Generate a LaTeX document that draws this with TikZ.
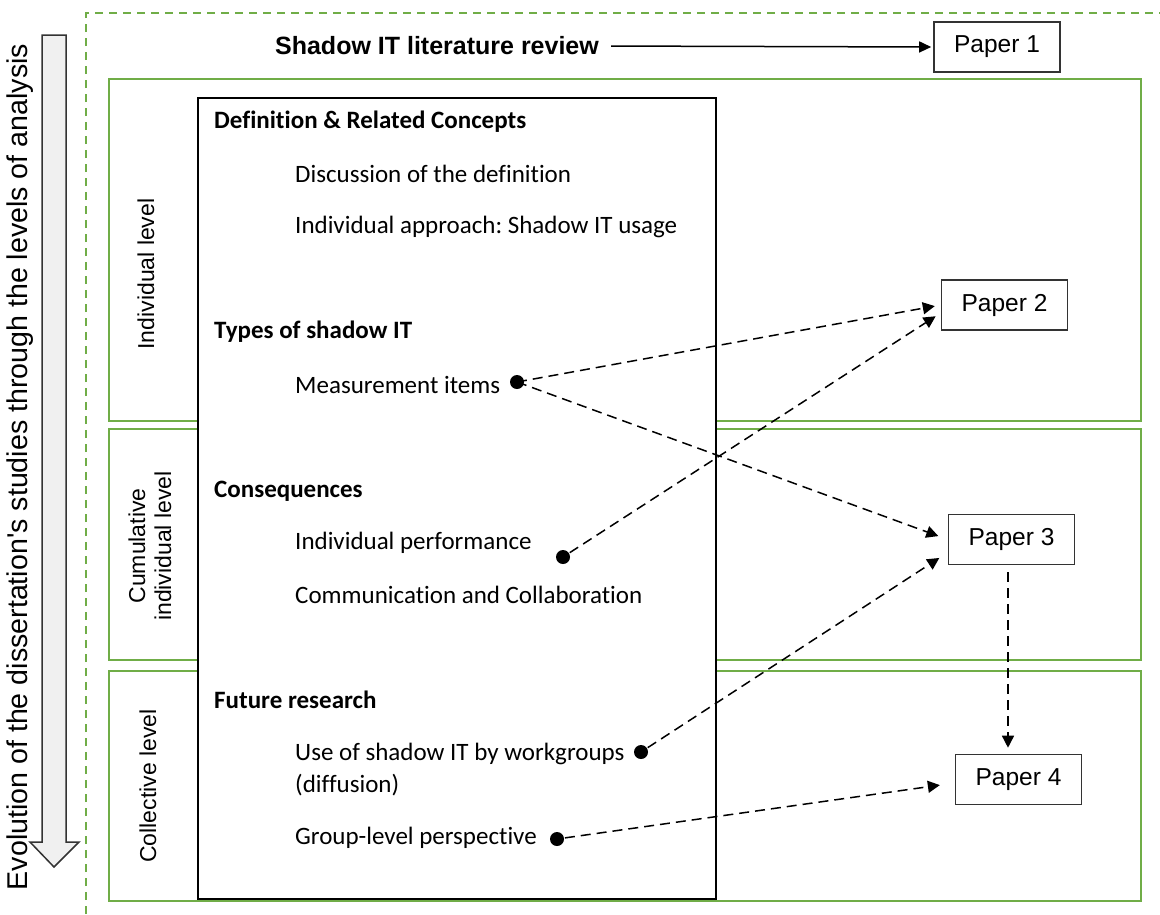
\documentclass[tikz,border=0pt]{standalone}
\usepackage{fontspec}
\setmainfont{Carlito}[Ligatures=NoCommon]
\newfontfamily\arialf{Liberation Sans}
\usetikzlibrary{arrows.meta,calc}
\definecolor{lvlgreen}{HTML}{70AD47}
\definecolor{boxgray}{HTML}{333333}
\definecolor{arrowfill}{HTML}{F0F0F0}
\frenchspacing
\tikzset{
  paperbox/.style={draw=boxgray,line width=1.6pt,minimum width=126pt,minimum height=50pt,inner sep=0pt,font=\arialf\fontsize{24.5}{26}\selectfont},
  lvlbox/.style={draw=lvlgreen,line width=1.5pt},
  lvllabel/.style={rotate=90,font=\arialf\fontsize{23}{26}\selectfont,align=center,inner sep=0pt},
  head/.style={anchor=west,font=\bfseries\fontsize{25}{30}\selectfont,inner sep=0pt},
  item/.style={anchor=west,font=\fontsize{25}{32}\selectfont,inner sep=0pt,align=left},
  dot/.style={circle,fill=black,minimum size=14pt,inner sep=0pt},
  dasharrow/.style={dashed,dash pattern=on 10pt off 6pt,line width=1.5pt,-{Triangle[length=12pt,width=12pt]}},
}
\begin{document}
\begin{tikzpicture}[x=1pt,y=-1pt]
\useasboundingbox (0,0) rectangle (1160,914);
% outer dashed frame
\draw[lvlgreen,line width=1.5pt,dash pattern=on 8pt off 6pt] (86,914) -- (86,13) -- (1160,13);
% left evolution arrow
\draw[boxgray,line width=1.5pt,fill=arrowfill] (42,35) -- (66,35) -- (66,842) -- (79,842) -- (54,867) -- (30,842) -- (42,842) -- cycle;
\node[rotate=90,font=\arialf\fontsize{28.6}{30}\selectfont,inner sep=0pt] (evo) at (20,467) {Evolution of the dissertation's studies through the levels of analysis};
% level boxes
\node[lvlbox,minimum width=1032pt,minimum height=342pt,anchor=north west,inner sep=0pt] (l1) at (108,78) {};
\node[lvlbox,minimum width=1032pt,minimum height=231pt,anchor=north west,inner sep=0pt] (l2) at (108,428) {};
\node[lvlbox,minimum width=1032pt,minimum height=230pt,anchor=north west,inner sep=0pt] (l3) at (108,670) {};
\node[lvllabel] (t1) at (146,274) {Individual level};
\node[lvllabel] (t2) at (150,546) {Cumulative\\individual level};
\node[lvllabel] (t3) at (148,786) {Collective level};
% big content box
\node[draw=black,line width=1.5pt,fill=white,minimum width=518pt,minimum height=801pt,anchor=north west,inner sep=0pt] (big) at (197,97) {};
% title
\node[font=\arialf\bfseries\fontsize{25}{28}\selectfont,inner sep=0pt] (title) at (437,46) {Shadow IT literature review};
% papers
\node[paperbox] (p1) at (997,47) {Paper 1};
\node[paperbox] (p2) at (1004.5,305) {Paper 2};
\node[paperbox] (p3) at (1011.5,539.5) {Paper 3};
\node[paperbox] (p4) at (1018.5,779.5) {Paper 4};
% texts
\node[head] (h1) at (214,122) {Definition \& Related Concepts};
\node[item] (i1) at (295,174) {Discussion of the definition};
\node[item] (i2) at (295,227) {Individual approach: Shadow IT usage};
\node[head] (h2) at (214,332) {Types of shadow IT};
\node[item] (i3) at (295,385) {Measurement items};
\node[head] (h3) at (214,491) {Consequences};
\node[item] (i4) at (295,543) {Individual performance};
\node[item] (i5) at (295,595) {Communication and Collaboration};
\node[head] (h4) at (214,700) {Future research};
\node[item] (i6) at (295,770) {Use of shadow IT by workgroups\\(diffusion)};
\node[item] (i7) at (295,838) {Group-level perspective};
% dots
\node[dot] (d1) at (517,382) {};
\node[dot] (d2) at (563,557) {};
\node[dot] (d3) at (641,752) {};
\node[dot] (d4) at (557,839) {};
% arrows
\draw[line width=1.5pt,-{Triangle[length=12pt,width=11pt]},shorten <=12pt,shorten >=2pt] (title.east) -- (p1.west);
\draw[dasharrow,shorten >=6pt] (d1.center) -- (p2.west);
\draw[dasharrow,shorten <=8pt,shorten >=6pt] (d2.center) -- ([yshift=-8pt]p2.west);
\draw[dasharrow,shorten >=10pt] (d1.center) -- (p3.west);
\draw[dasharrow,shorten <=8pt,shorten >=10pt] (d3.center) -- ([yshift=-13pt]p3.west);
\draw[dasharrow,shorten <=7pt,shorten >=6pt] ([xshift=-3.5pt]p3.south) -- ([xshift=-10.5pt]p4.north);
\draw[dasharrow,shorten <=8pt,shorten >=15pt] (d4.center) -- ([yshift=-3.5pt]p4.west);
\end{tikzpicture}
\end{document}
